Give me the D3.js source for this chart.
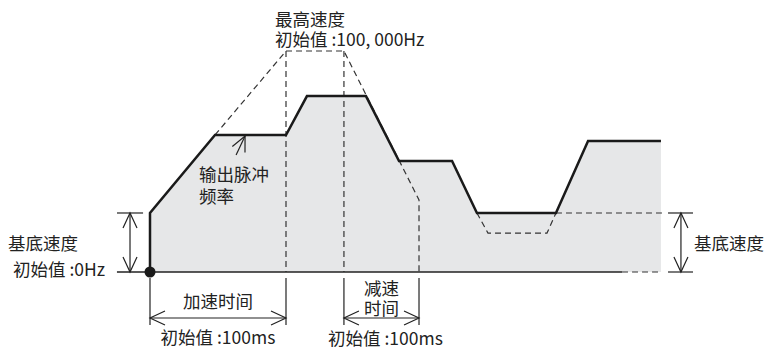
<!DOCTYPE html>
<html>
<head>
<meta charset="utf-8">
<script src="https://cdn.jsdelivr.net/npm/d3@7"></script>
<style>
body { margin: 0; background: #fff; }
text { font-family: "Noto Sans CJK SC", "Noto Sans", sans-serif; font-size: 17.5px; fill: #222; }
</style>
</head>
<body>
<div id="graph"></div>
<script>
const fullWidth = 769;
const fullHeight = 348;

// output pulse frequency (kHz) against time (ms)
const outTime = [0, 0, 47.8, 100, 115.4, 158.8, 183.1, 222.1, 240.4, 298.5, 322.1, 375.7];
const outFreq = [0, 26.7, 62, 62, 79.6, 79.6, 50.2, 50.2, 26.7, 26.7, 59.3, 59.3];
// profile with maximum speed (dashed)
const maxTime = [47.8, 100, 142.6, 197.8, 197.8];
const maxFreq = [62, 100, 100, 32.6, 0];
// dip below base speed (dashed)
const dipTime = [240.4, 248.5, 291.9, 298.5];
const dipFreq = [26.7, 17.6, 17.6, 26.7];

const baseSpeed = 26.7;
const maxSpeed = 100;
const accelMarks = [0, 100];
const decelMarks = [142.6, 197.8];
const endTime = 375.7;

var x = d3.scaleLinear().domain([0, 100]).range([150, 286]);
var y = d3.scaleLinear().domain([0, 100]).range([272, 51]);

var svg = d3.select("#graph")
	.append("svg")
	.attr("width", fullWidth)
	.attr("height", fullHeight);

var outData = outTime.map((t, i) => ({ t: t, f: outFreq[i] }));
var maxData = maxTime.map((t, i) => ({ t: t, f: maxFreq[i] }));
var dipData = dipTime.map((t, i) => ({ t: t, f: dipFreq[i] }));

var line = d3.line().x(d => x(d.t)).y(d => y(d.f));
var area = d3.area().x(d => x(d.t)).y0(y(0)).y1(d => y(d.f));

// grey area under the output frequency
svg.append("path")
	.datum(outData)
	.attr("d", area)
	.attr("fill", "#e6e7e8");

// dashed helper lines
var dash = svg.append("g")
	.attr("fill", "none")
	.attr("stroke", "#333")
	.attr("stroke-width", 1.2)
	.attr("stroke-dasharray", "6,4");

dash.append("path").datum(maxData).attr("d", line);
dash.append("path").datum(dipData).attr("d", line);
[100, 142.6].forEach(t => {
	dash.append("line")
		.attr("x1", x(t)).attr("x2", x(t))
		.attr("y1", y(maxSpeed)).attr("y2", y(0));
});
dash.append("line")
	.attr("x1", x(298.5)).attr("x2", x(378))
	.attr("y1", y(baseSpeed)).attr("y2", y(baseSpeed));
dash.append("line")
	.attr("x1", x(347.1)).attr("x2", x(endTime))
	.attr("y1", y(0)).attr("y2", y(0));

// thin solid lines
var thin = svg.append("g")
	.attr("fill", "none")
	.attr("stroke", "#222")
	.attr("stroke-width", 1.2);

function hline(t1, t2, f) {
	thin.append("line")
		.attr("x1", x(t1)).attr("x2", x(t2))
		.attr("y1", y(f)).attr("y2", y(f));
}
function vline(t, y1, y2) {
	thin.append("line")
		.attr("x1", x(t)).attr("x2", x(t))
		.attr("y1", y1).attr("y2", y2);
}
// open arrow head at (px,py) pointing in direction (dx,dy)
function head(px, py, dx, dy) {
	var len = Math.sqrt(dx * dx + dy * dy);
	var ux = dx / len, uy = dy / len;
	var l = 15, w = 7;
	var p = d3.path();
	p.moveTo(px - ux * l - uy * w, py - uy * l + ux * w);
	p.lineTo(px, py);
	p.lineTo(px - ux * l + uy * w, py - uy * l - ux * w);
	thin.append("path").attr("d", p.toString());
}

// baseline
svg.append("line")
	.attr("x1", x(-24.3)).attr("x2", x(347.1))
	.attr("y1", y(0)).attr("y2", y(0))
	.attr("stroke", "#222").attr("stroke-width", 1.5);
hline(380.9, 399.3, 0);
hline(380.9, 399.3, baseSpeed);
hline(-24.3, -5.1, baseSpeed);

// base speed arrows (left and right)
[-14.7, 390.4].forEach(t => {
	vline(t, y(baseSpeed), y(0));
	head(x(t), y(baseSpeed), 0, -1);
	head(x(t), y(0), 0, 1);
});

// time dimension lines
var dimY = 318;
function dimension(t1, t2) {
	vline(t1, y(0) + 6, dimY + 7);
	vline(t2, y(0) + 6, dimY + 7);
	thin.append("line")
		.attr("x1", x(t1)).attr("x2", x(t2))
		.attr("y1", dimY).attr("y2", dimY);
	head(x(t1), dimY, -1, 0);
	head(x(t2), dimY, 1, 0);
}
dimension(accelMarks[0], accelMarks[1]);
dimension(decelMarks[0], decelMarks[1]);

// pointer to output frequency
thin.append("line")
	.attr("x1", x(63.3)).attr("y1", 155)
	.attr("x2", x(69.9)).attr("y2", 136);
head(x(69.9), 136, x(69.9) - x(63.3), 136 - 155);

// output frequency line
svg.append("path")
	.datum(outData)
	.attr("d", line)
	.attr("fill", "none")
	.attr("stroke", "#1a1a1a")
	.attr("stroke-width", 2.5)
	.attr("stroke-linejoin", "miter");

// start point
svg.append("circle")
	.attr("cx", x(0)).attr("cy", y(0))
	.attr("r", 5.5)
	.attr("fill", "#1a1a1a");

// labels
function label(txt, px, py, anchor) {
	svg.append("text")
		.text(txt)
		.attr("x", px).attr("y", py)
		.attr("dominant-baseline", "central")
		.style("text-anchor", anchor || "start");
}
label("最高速度", x(100) - 11, 18);
label("初始值 :100, 000Hz", x(100) - 11, 38);
label("输出脉冲", 199, 173);
label("频率", 199, 195);
label("基底速度", 8, 242);
label("初始值 :0Hz", 13, 268);
label("加速时间", (x(accelMarks[0]) + x(accelMarks[1])) / 2, 300, "middle");
label("初始值 :100ms", (x(accelMarks[0]) + x(accelMarks[1])) / 2, 336, "middle");
label("减速", (x(decelMarks[0]) + x(decelMarks[1])) / 2, 287, "middle");
label("时间", (x(decelMarks[0]) + x(decelMarks[1])) / 2, 307, "middle");
label("初始值 :100ms", (x(decelMarks[0]) + x(decelMarks[1])) / 2 + 4, 337, "middle");
label("基底速度", 694, 242);
</script>
</body>
</html>
